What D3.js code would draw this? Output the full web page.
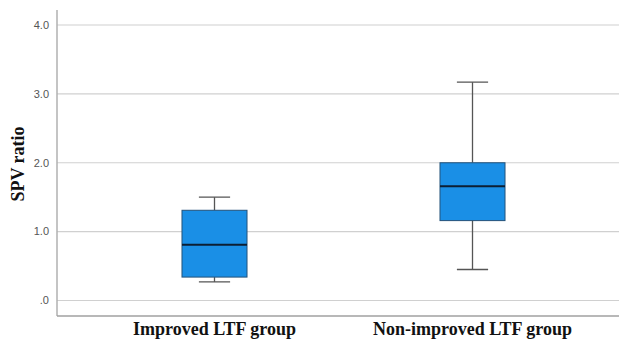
<!DOCTYPE html>
<html>
<head>
<meta charset="utf-8">
<script src="https://cdn.jsdelivr.net/npm/d3@7"></script>
<style>
  body { margin: 0; background: #fff; }
</style>
</head>
<body>
<div id="chart"></div>
<script>
// data
var groups = ["Improved LTF group", "Non-improved LTF group"];
var whiskerLow = [0.27, 0.45];
var q1 = [0.34, 1.16];
var medians = [0.81, 1.66];
var q3 = [1.31, 2.0];
var whiskerHigh = [1.50, 3.17];
var yTicks = [0, 1, 2, 3, 4];
var yTickLabels = [".0", "1.0", "2.0", "3.0", "4.0"];

var svgWidth = 619;
var svgHeight = 342;

var svg = d3.select("#chart")
  .append("svg")
  .attr("width", svgWidth)
  .attr("height", svgHeight);

var axisX = 57;
var axisBottom = 316;

var yScale = d3.scaleLinear()
  .domain([0, 4])
  .range([300.5, 25]);

var xScale = d3.scaleBand()
  .domain(groups)
  .range([85.5, 601.5]);

var boxWidth = xScale.bandwidth() * 0.252;
var capWidth = boxWidth * 0.48;

// gridlines + tick labels
var grid = svg.append("g");
yTicks.forEach(function(t, i) {
  grid.append("line")
    .attr("x1", axisX)
    .attr("x2", svgWidth)
    .attr("y1", yScale(t))
    .attr("y2", yScale(t))
    .attr("stroke", "#d0d0d0")
    .attr("stroke-width", 1.2);
  grid.append("text")
    .attr("x", 49)
    .attr("y", yScale(t))
    .attr("dy", "0.35em")
    .attr("text-anchor", "end")
    .attr("font-family", "Liberation Sans, Arial, sans-serif")
    .attr("font-size", 11)
    .attr("fill", "#555")
    .text(yTickLabels[i]);
});

// axis lines
svg.append("line")
  .attr("x1", axisX).attr("x2", axisX)
  .attr("y1", 10).attr("y2", axisBottom)
  .attr("stroke", "#b0b0b0")
  .attr("stroke-width", 1.5);

svg.append("line")
  .attr("x1", axisX).attr("x2", svgWidth)
  .attr("y1", axisBottom).attr("y2", axisBottom)
  .attr("stroke", "#a0a0a0")
  .attr("stroke-width", 1.5);

// boxes
var boxes = svg.selectAll(".box")
  .data(groups)
  .enter()
  .append("g")
  .attr("class", "box");

boxes.each(function(d, i) {
  var g = d3.select(this);
  var cx = xScale(d) + xScale.bandwidth() / 2;

  g.append("line")
    .attr("x1", cx).attr("x2", cx)
    .attr("y1", yScale(whiskerHigh[i])).attr("y2", yScale(q3[i]))
    .attr("stroke", "#555").attr("stroke-width", 1.3);
  g.append("line")
    .attr("x1", cx).attr("x2", cx)
    .attr("y1", yScale(q1[i])).attr("y2", yScale(whiskerLow[i]))
    .attr("stroke", "#555").attr("stroke-width", 1.3);

  [whiskerHigh[i], whiskerLow[i]].forEach(function(v) {
    g.append("line")
      .attr("x1", cx - capWidth / 2).attr("x2", cx + capWidth / 2)
      .attr("y1", yScale(v)).attr("y2", yScale(v))
      .attr("stroke", "#555").attr("stroke-width", 1.3);
  });

  g.append("rect")
    .attr("x", cx - boxWidth / 2)
    .attr("y", yScale(q3[i]))
    .attr("width", boxWidth)
    .attr("height", yScale(q1[i]) - yScale(q3[i]))
    .attr("fill", "#1a8fe6")
    .attr("stroke", "#24527a")
    .attr("stroke-width", 1);

  g.append("line")
    .attr("x1", cx - boxWidth / 2).attr("x2", cx + boxWidth / 2)
    .attr("y1", yScale(medians[i])).attr("y2", yScale(medians[i]))
    .attr("stroke", "#0c1e33").attr("stroke-width", 2);
});

// category labels
svg.selectAll(".cat")
  .data(groups)
  .enter()
  .append("text")
  .attr("x", d => xScale(d) + xScale.bandwidth() / 2)
  .attr("y", 335)
  .attr("text-anchor", "middle")
  .attr("font-family", "Liberation Serif, Times New Roman, serif")
  .attr("font-weight", "bold")
  .attr("font-size", 18)
  .attr("fill", "#111")
  .text(d => d);

// y axis title
svg.append("text")
  .attr("transform", "translate(24, 164) rotate(-90)")
  .attr("text-anchor", "middle")
  .attr("font-family", "Liberation Serif, Times New Roman, serif")
  .attr("font-weight", "bold")
  .attr("font-size", 18)
  .attr("fill", "#111")
  .text("SPV ratio");
</script>
</body>
</html>
